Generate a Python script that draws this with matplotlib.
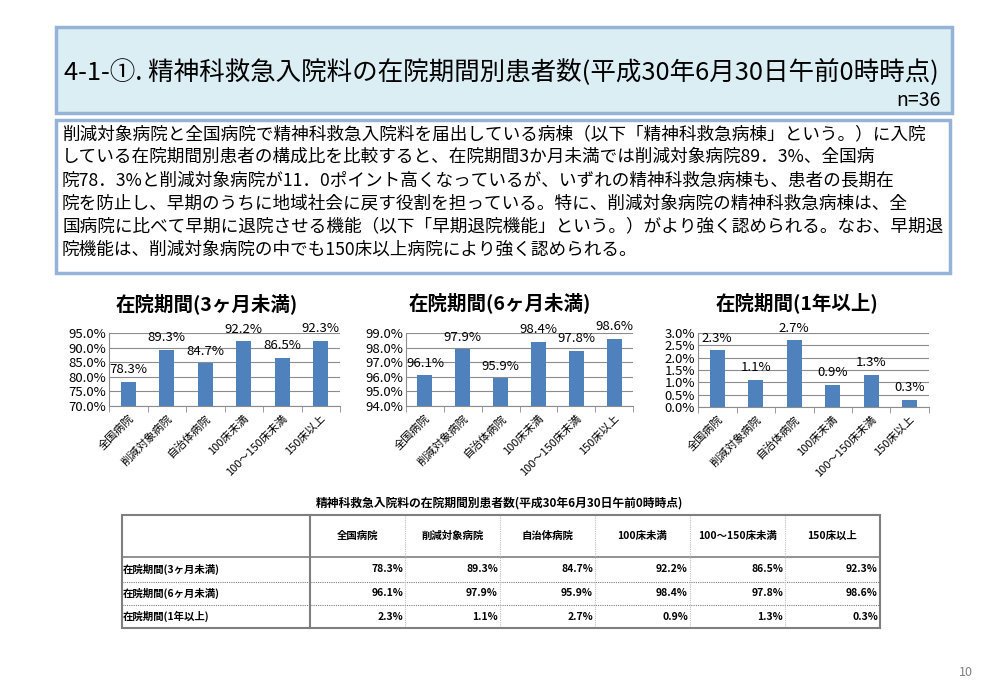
import matplotlib
matplotlib.use('Agg')
import matplotlib.pyplot as plt
from matplotlib.patches import Rectangle
from matplotlib.ticker import FuncFormatter, FixedLocator

plt.rcParams['font.family'] = ['Noto Sans CJK JP', 'DejaVu Sans']

# ---- data ----
categories = ['全国病院', '削減対象病院', '自治体病院', '100床未満', '100～150床未満', '150床以上']
stay_3m = [78.3, 89.3, 84.7, 92.2, 86.5, 92.3]
stay_6m = [96.1, 97.9, 95.9, 98.4, 97.8, 98.6]
stay_1y = [2.3, 1.1, 2.7, 0.9, 1.3, 0.3]
series_names = ['在院期間(3ヶ月未満)', '在院期間(6ヶ月未満)', '在院期間(1年以上)']
y_ranges = [(70, 95, 5), (94, 99, 1), (0, 3, 0.5)]

page_title = '4-1-①. 精神科救急入院料の在院期間別患者数(平成30年6月30日午前0時時点)'
n_label = 'n=36'
body_lines = [
    '削減対象病院と全国病院で精神科救急入院料を届出している病棟（以下「精神科救急病棟」という。）に入院',
    'している在院期間別患者の構成比を比較すると、在院期間3か月未満では削減対象病院89．3%、全国病',
    '院78．3%と削減対象病院が11．0ポイント高くなっているが、いずれの精神科救急病棟も、患者の長期在',
    '院を防止し、早期のうちに地域社会に戻す役割を担っている。特に、削減対象病院の精神科救急病棟は、全',
    '国病院に比べて早期に退院させる機能（以下「早期退院機能」という。）がより強く認められる。なお、早期退',
    '院機能は、削減対象病院の中でも150床以上病院により強く認められる。',
]
table_title = '精神科救急入院料の在院期間別患者数(平成30年6月30日午前0時時点)'
page_no = '10'

W, H = 1000, 692
BAR = '#4F81BD'
GRID = '#8C8C8C'
BORDER = '#95B3D7'

fig = plt.figure(figsize=(W / 100, H / 100), dpi=100)

# slide background layer in pixel coordinates
ax0 = fig.add_axes([0, 0, 1, 1])
ax0.set_xlim(0, W)
ax0.set_ylim(H, 0)
ax0.axis('off')

ax0.add_patch(Rectangle((56, 27), 896, 86, fc='#DBEEF4', ec=BORDER, lw=2.5))
ax0.text(64, 72, page_title, fontsize=18.4, va='center', ha='left')
ax0.text(941, 100, n_label, fontsize=14, va='center', ha='right')

ax0.add_patch(Rectangle((56, 120), 894, 153, fc='white', ec=BORDER, lw=2.5))
for i, line in enumerate(body_lines):
    ax0.text(62, 134 + 23.2 * i, line, fontsize=12.7, va='center', ha='left')

ax0.text(966, 673, page_no, fontsize=9, color='#808080', ha='center', va='center')


def px_axes(left, right, top, bottom):
    return fig.add_axes([left / W, 1 - bottom / H, (right - left) / W, (bottom - top) / H])


#%% charts
chart_boxes = [(109, 340, 333, 406), (406, 633, 333, 406), (698, 929, 333, 407)]
title_pos = [(207, 304), (500, 303), (797, 303)]
all_series = [stay_3m, stay_6m, stay_1y]
x = list(range(len(categories)))

for box, tpos, vals, name, (lo, hi, step) in zip(chart_boxes, title_pos, all_series,
                                                  series_names, y_ranges):
    ax = px_axes(*box)
    ax.bar(x, vals, width=0.4, color=BAR, zorder=3)
    ax.set_xlim(-0.5, len(categories) - 0.5)
    ax.set_ylim(lo, hi)
    n_ticks = int(round((hi - lo) / step)) + 1
    ax.set_yticks([lo + step * k for k in range(n_ticks)])
    ax.yaxis.set_major_formatter(FuncFormatter(lambda v, p: f'{v:.1f}%'))
    ax.grid(axis='y', color=GRID, lw=0.8, zorder=0)
    for s in ['top', 'right']:
        ax.spines[s].set_visible(False)
    ax.spines['left'].set_color(GRID)
    ax.spines['bottom'].set_color(GRID)
    ax.tick_params(axis='y', length=0, labelsize=9.5, pad=2)
    ax.set_xticks(x)
    ax.set_xticklabels(categories, rotation=45, ha='right', rotation_mode='anchor', fontsize=8)
    ax.tick_params(axis='x', which='major', length=0, pad=5)
    ax.xaxis.set_minor_locator(FixedLocator([k - 0.5 for k in range(len(categories) + 1)]))
    ax.tick_params(axis='x', which='minor', length=4, color=GRID, direction='out')
    for xi, v in zip(x, vals):
        ax.annotate(f'{v:.1f}%', (xi, v), xytext=(0, 4), textcoords='offset points',
                    ha='center', va='bottom', fontsize=9.5, annotation_clip=False)
    ax0.text(tpos[0], tpos[1], name, fontsize=14, fontweight='bold', ha='center', va='center')

#%% table
ax0.text(500, 503, table_title, fontsize=8.5, fontweight='bold', ha='center', va='center')
col_edges = [122, 310, 405, 500, 595, 690, 785, 880]
row_edges = [515, 557, 582, 605, 628]
TL = '#7F7F7F'

ax0.add_patch(Rectangle((col_edges[0], row_edges[0]), col_edges[-1] - col_edges[0],
                        row_edges[-1] - row_edges[0], fc='none', ec=TL, lw=1.5, zorder=5))
ax0.plot([col_edges[0], col_edges[-1]], [row_edges[1]] * 2, color=TL, lw=1.2)
for yv in row_edges[2:-1]:
    ax0.plot([col_edges[0], col_edges[-1]], [yv] * 2, color=TL, lw=0.8, ls=(0, (1, 1)))
ax0.plot([col_edges[1]] * 2, [row_edges[0], row_edges[-1]], color=TL, lw=1.5)
for xv in col_edges[2:-1]:
    ax0.plot([xv] * 2, [row_edges[0], row_edges[-1]], color='#BFBFBF', lw=0.8, ls=(0, (1, 1)))

for j, cat in enumerate(categories):
    cx = (col_edges[j + 1] + col_edges[j + 2]) / 2
    ax0.text(cx, (row_edges[0] + row_edges[1]) / 2, cat, fontsize=7.5, fontweight='bold',
             ha='center', va='center')

for i, (name, vals) in enumerate(zip(series_names, all_series)):
    cy = (row_edges[i + 1] + row_edges[i + 2]) / 2
    ax0.text(col_edges[0] + 1, cy, name, fontsize=7.5, fontweight='bold', ha='left', va='center')
    for j, v in enumerate(vals):
        ax0.text(col_edges[j + 2] - 2, cy, f'{v:.1f}%', fontsize=7.5, fontweight='bold',
                 ha='right', va='center')

fig.savefig('out.png', dpi=100)
